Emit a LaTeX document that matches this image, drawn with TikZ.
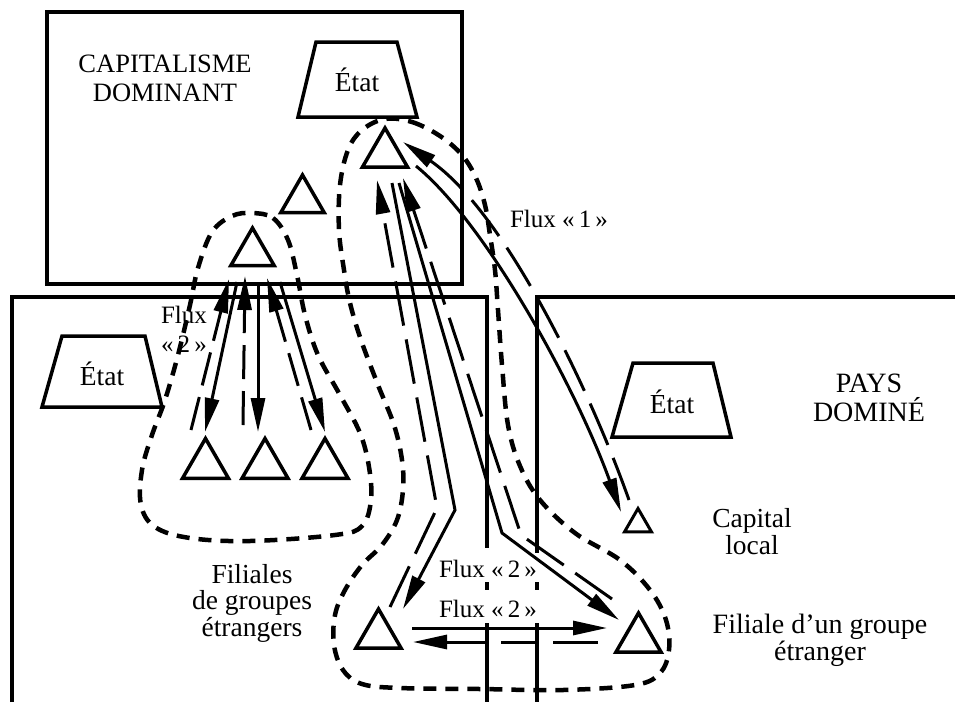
\documentclass[tikz,border=0pt]{standalone}
\usepackage{fontspec}
\setmainfont{Liberation Serif}
\usetikzlibrary{arrows.meta,shapes.geometric}

\begin{document}
\begin{tikzpicture}[x=1pt,y=-1pt,
  frame/.style={line width=3.5pt},
  state/.style={line width=3.5pt, line join=miter},
  tri/.style={draw, regular polygon, regular polygon sides=3, line width=3.5pt,
              inner sep=0pt, outer sep=0pt, minimum size=#1},
  ring/.style={line width=4.5pt, dash pattern=on 13pt off 9pt},
  flow/.style={line width=3pt, line join=miter},
  back/.style={line width=3pt, line join=miter, dash pattern=on 45pt off 14pt},
  shortback/.style={line width=3pt, dash pattern=on 34pt off 12pt},
  head/.style={-{Triangle[length=34pt,width=14pt]}},
  lbl/.style={inner sep=0pt, align=center, font=\fontsize{27.5}{29}\selectfont},
  fluxlbl/.style={inner sep=0pt, align=center, font=\fontsize{25}{29}\selectfont},
]
\useasboundingbox (0,0) rectangle (955,702);

% ---------- frames: dominant capitalism, dominated country ----------
\draw[frame] (47,12) rectangle (462,284);
\draw[frame] (12,702) -- (12,297) -- (487,297) -- (487,548);
\draw[frame] (487,582) -- (487,590);
\draw[frame] (487,623) -- (487,702);
\draw[frame] (955,297) -- (537,297) -- (537,553);
\draw[frame] (537,582) -- (537,590);
\draw[frame] (537,623) -- (537,702);

% ---------- the three states ----------
\draw[state] (298,117) -- (316,42) -- (397,42) -- (417,117) -- cycle;
\draw[state] (42,407) -- (62,336) -- (145,336) -- (162,407) -- cycle;
\draw[state] (612,437) -- (633,363) -- (713,363) -- (731,437) -- cycle;
\node[lbl, anchor=base] (etatTop) at (357,91) {État};
\node[lbl, anchor=base] (etatL) at (102,385) {État};
\node[lbl, anchor=base] (etatR) at (672,413) {État};

% ---------- capitals ----------
\node[tri=52pt] (tTop) at (385,154) {};
\node[tri=50pt] (tMid) at (302.5,200) {};
\node[tri=50pt] (tSub) at (252.5,253) {};
\node[tri=53pt] (tA) at (205.5,465) {};
\node[tri=53pt] (tB) at (265,465) {};
\node[tri=53pt] (tC) at (325,465) {};
\node[tri=52pt] (tL) at (378.5,635) {};
\node[tri=52pt] (tR) at (638.5,639) {};
\node[tri=31pt, line width=3pt] (tCap) at (638,524) {};

% ---------- group outlines ----------
\draw[ring] plot[smooth cycle, tension=0.6] coordinates {
  (385,119) (412,122) (440,136) (462,155) (476,178) (485,205) (490,235)
  (495,270) (498,310) (502,365) (508,425) (520,466) (540,500) (575,533)
  (620,560) (650,590) (666,620) (669,650) (660,673) (635,685) (563,690)
  (480,689) (400,688) (362,684) (343,670) (334,645) (335,615) (345,590)
  (362,565) (382,545) (397,520) (403,490) (402,460) (394,425) (378,385)
  (361,340) (350,303) (344,270) (339,230) (340,185) (348,150) (362,130)};
\draw[ring] plot[smooth cycle, tension=0.6] coordinates {
  (252,213) (273,218) (288,240) (297,275) (305,315) (318,355) (340,395)
  (360,433) (369,467) (371,500) (362,526) (335,535) (250,541) (190,538)
  (155,527) (141,505) (142,470) (152,435) (165,400) (178,355) (190,305)
  (198,268) (212,232) (232,216)};

% ---------- flux 1 ----------
\coordinate (f1a) at (416,166);
\coordinate (f1b) at (621,512);
\coordinate (f1c) at (629,500);
\coordinate (f1d) at (403,142);
\draw[flow, head] (f1a) .. controls (485,222) and (575,385) .. (f1b);
\draw[back, head] (f1c) .. controls (590,390) and (505,212) .. (f1d);

% ---------- flux 2: parent to the two subsidiaries ----------
\coordinate (s1a) at (392,183);
\coordinate (s1k) at (455,510);
\coordinate (s1b) at (403,609);
\coordinate (d1a) at (390,607);
\coordinate (d1k) at (437,508);
\coordinate (d1b) at (377,180);
\coordinate (s2a) at (399,183);
\coordinate (s2k) at (502,533);
\coordinate (s2b) at (619,620);
\coordinate (d2a) at (612,599);
\coordinate (d2k) at (521,535);
\coordinate (d2b) at (403,178);
\draw[flow, head] (s1a) -- (s1k) -- (s1b);
\draw[back, head] (d1a) -- (d1k) -- (d1b);
\draw[flow, head] (s2a) -- (s2k) -- (s2b);
\draw[back, head] (d2a) -- (d2k) -- (d2b);

% ---------- flux 2 between the two subsidiaries ----------
\coordinate (h1a) at (412,628);
\coordinate (h1b) at (607,628);
\coordinate (h2a) at (598,642);
\coordinate (h2b) at (413,642);
\draw[flow, head] (h1a) -- (h1b);
\draw[flow, head, dash pattern=on 45pt off 15pt on 37pt off 13pt on 200pt] (h2a) -- (h2b);

% ---------- flux 2: second group and its subsidiaries ----------
\coordinate (sAa) at (237,282);
\coordinate (sAb) at (205,432);
\coordinate (dAa) at (191,430);
\coordinate (dAb) at (229,279);
\coordinate (sBa) at (258,282);
\coordinate (sBb) at (258,432);
\coordinate (dBa) at (243,425);
\coordinate (dBb) at (245,276);
\coordinate (sCa) at (280,282);
\coordinate (sCb) at (325,432);
\coordinate (dCa) at (311,430);
\coordinate (dCb) at (267,278);
\draw[flow, head] (sAa) -- (sAb);
\draw[shortback, head] (dAa) -- (dAb);
\draw[flow, head] (sBa) -- (sBb);
\draw[shortback, head] (dBa) -- (dBb);
\draw[flow, head] (sCa) -- (sCb);
\draw[shortback, head] (dCa) -- (dCb);

% ---------- labels ----------
\node[lbl, anchor=north, font=\fontsize{26.5}{29}\selectfont] (capDom) at (165,55) {CAPITALISME\\DOMINANT};
\node[lbl, anchor=north, font=\fontsize{28}{29}\selectfont] (paysDom) at (869,374) {PAYS\\DOMINÉ};
\node[fluxlbl, anchor=base] (flux1) at (559,227) {Flux «\,1\,»};
\node[fluxlbl, anchor=north] (flux2L) at (184,306) {Flux\\«\,2\,»};
\node[fluxlbl, anchor=base] (flux2a) at (488,577) {Flux «\,2\,»};
\node[fluxlbl, anchor=base] (flux2b) at (488,617) {Flux «\,2\,»};
\node[lbl, anchor=north, font=\fontsize{27.5}{27}\selectfont] (capLocal) at (752,508) {Capital\\local};
\node[lbl, anchor=north, font=\fontsize{27.5}{26.5}\selectfont] (filiales) at (252,564) {Filiales\\de groupes\\étrangers};
\node[lbl, anchor=north, font=\fontsize{28}{25.5}\selectfont] (filialeR) at (820,614) {Filiale d’un groupe\\étranger};
\end{tikzpicture}
\end{document}
